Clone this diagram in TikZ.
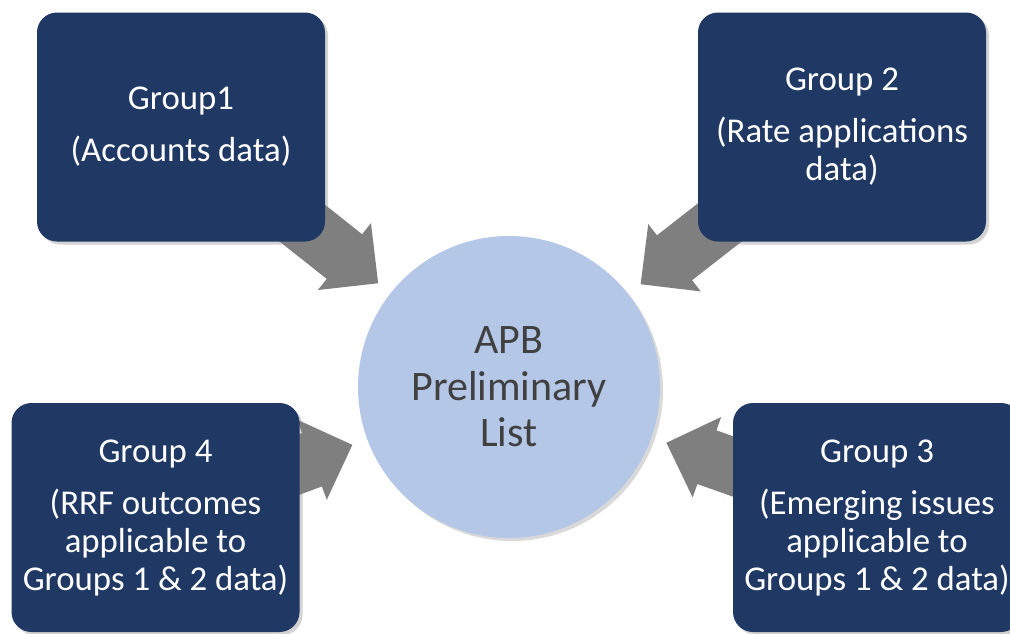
\documentclass[tikz,border=0pt]{standalone}
\usepackage{fontspec}
\setmainfont{Carlito}
\usepackage{xcolor}
\usetikzlibrary{arrows.meta, calc, shadows, backgrounds}

\definecolor{navy}{HTML}{203864}
\definecolor{hubblue}{HTML}{B4C7E7}
\definecolor{arrowgray}{HTML}{7F7F7F}
\definecolor{hubtext}{HTML}{404040}

\begin{document}
\begin{tikzpicture}[x=0.5pt, y=-0.5pt,
  group node/.style={rectangle, rounded corners=10pt, fill=navy, text=white,
    minimum width=144pt, minimum height=114.5pt, align=center,
    font=\fontsize{17.4}{19}\selectfont,
    drop shadow={shadow xshift=1.5pt, shadow yshift=-1.5pt, opacity=0.35}},
  hub node/.style={circle, fill=hubblue, text=hubtext, minimum size=151pt,
    inner sep=0pt, align=center, font=\fontsize{21}{23.25}\selectfont,
    drop shadow={shadow xshift=1.5pt, shadow yshift=-1.5pt, opacity=0.3}},
  feed arrow/.style={draw=arrowgray, line width=28.5pt,
    -{Triangle[length=21.5pt, width=42.5pt, line width=1pt]}}]

  \useasboundingbox (0,0) rectangle (1010,633);
  \clip (0,0) rectangle (1010,633);

  \node[hub node] (H) at (509,387) {APB\\Preliminary\\List};

  \node[group node] (G1) at (181,127) {Group1\\[7pt](Accounts data)};
  \node[group node] (G2) at (842,127) {Group 2\\[7pt](Rate applications\\data)};
  \node[group node] (G3) at (877,517.5) {Group 3\\[7pt](Emerging issues\\applicable to\\Groups 1 \& 2 data)};
  \node[group node] (G4) at (155.5,517.5) {Group 4\\[7pt](RRF outcomes\\applicable to\\Groups 1 \& 2 data)};

  % arrow tips stop short of the circle
  \coordinate (T1) at ($(H.center)!83.5pt!(G1.center)$);
  \coordinate (T2) at ($(H.center)!83.5pt!(G2.center)$);
  \coordinate (T3) at ($(H.center)!83.5pt!(G3.center)$);
  \coordinate (T4) at ($(H.center)!83.5pt!(G4.center)$);

  \begin{scope}[on background layer]
    \draw[feed arrow] (G1.center) -- (T1);
    \draw[feed arrow] (G2.center) -- (T2);
    \draw[feed arrow] (G3.center) -- (T3);
    \draw[feed arrow] (G4.center) -- (T4);
  \end{scope}
\end{tikzpicture}
\end{document}
